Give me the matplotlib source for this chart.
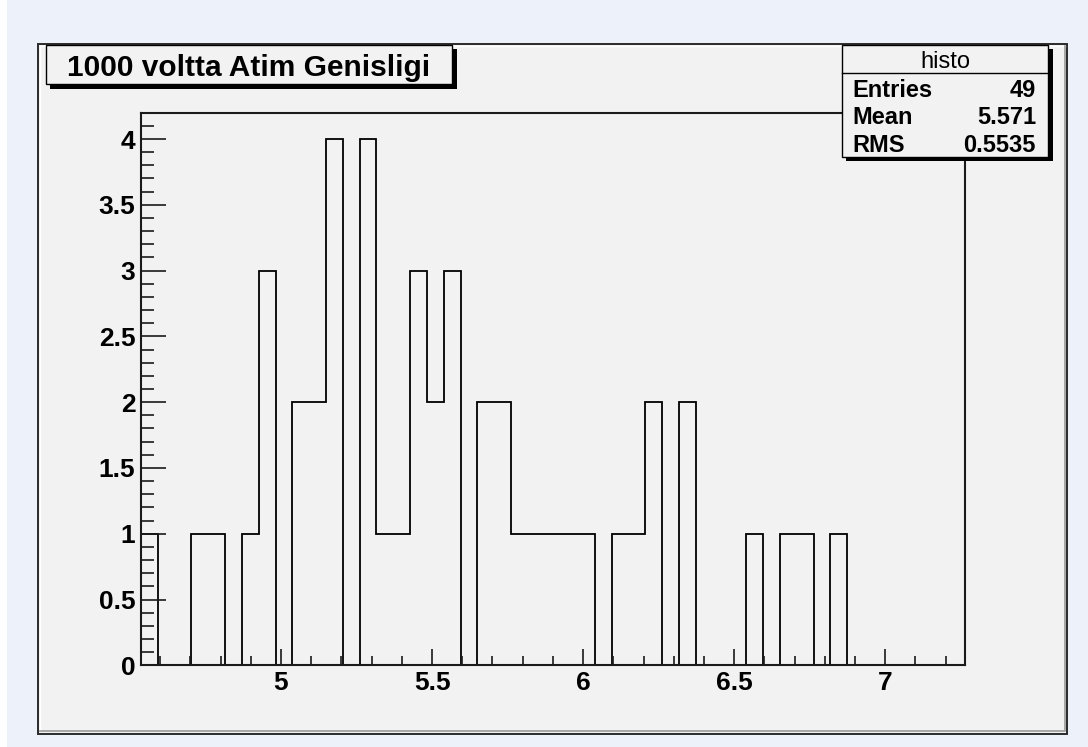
import numpy as np
import matplotlib.pyplot as plt
from matplotlib.patches import Rectangle
from matplotlib.ticker import MultipleLocator, FormatStrFormatter

# histogram contents (49 bins)
counts = [1, 0, 0, 1, 1, 0, 1, 3, 0, 2,
          2, 4, 0, 4, 1, 1, 3, 2, 3, 0,
          2, 2, 1, 1, 1, 1, 1, 0, 1, 1,
          2, 0, 2, 0, 0, 0, 1, 0, 1, 1,
          0, 1, 0, 0, 0, 0, 0, 0, 0]
x_min = 4.5367
x_max = 7.2640
y_max = 4.2

title = "1000 voltta Atim Genisligi"
stat_name = "histo"
stat_labels = ["Entries", "Mean", "RMS"]
stat_values = ["49", "5.571", "0.5535"]

W, H = 1088, 747
plt.rcParams['font.family'] = ['Liberation Sans', 'DejaVu Sans']

fig = plt.figure(figsize=(W / 100, H / 100), dpi=100)
fig.patch.set_facecolor('#edf1fa')

# background / canvas frame in pixel coordinates
bg = fig.add_axes([0, 0, 1, 1], zorder=-1)
bg.set_xlim(0, W)
bg.set_ylim(H, 0)
bg.axis('off')
bg.add_patch(Rectangle((0, 0), 7, H, facecolor='white', edgecolor='none'))
bg.add_patch(Rectangle((37.5, 43.5), 1029.5, 690, facecolor='#f2f2f2',
                       edgecolor='#2a2a2a', lw=1.4))
bg.plot([39.5, 39.5, 1065], [731, 45.5, 45.5], color='white', lw=1.0)
bg.plot([40, 1065, 1065], [731, 731, 45.5], color='#9a9a9a', lw=1.2)

# main histogram pad
ax = fig.add_axes([141 / W, 1 - 665.3 / H, (965 - 141) / W, (665.3 - 112.7) / H])
ax.set_facecolor('#f2f2f2')
edges = np.linspace(x_min, x_max, len(counts) + 1)
ax.stairs(counts, edges, baseline=0, color='black', lw=1.3)
ax.set_xlim(x_min, x_max)
ax.set_ylim(0, y_max)
for s in ax.spines.values():
    s.set_linewidth(1.5)
    s.set_color('#1a1a1a')

ax.xaxis.set_major_locator(MultipleLocator(0.5))
ax.xaxis.set_minor_locator(MultipleLocator(0.1))
ax.yaxis.set_major_locator(MultipleLocator(0.5))
ax.yaxis.set_minor_locator(MultipleLocator(0.1))
ax.xaxis.set_major_formatter(FormatStrFormatter('%g'))
ax.yaxis.set_major_formatter(FormatStrFormatter('%g'))
ax.tick_params(which='both', direction='in', top=False, right=False,
               width=1.2, color='#1a1a1a')
ax.tick_params(axis='y', which='major', length=18, pad=4)
ax.tick_params(axis='y', which='minor', length=9.4)
ax.tick_params(axis='x', which='major', length=11.5, pad=4)
ax.tick_params(axis='x', which='minor', length=6.5)
for lab in ax.get_xticklabels() + ax.get_yticklabels():
    lab.set_fontsize(19)
    lab.set_fontweight('bold')

# overlay for title box and stats box
ov = fig.add_axes([0, 0, 1, 1], zorder=5)
ov.set_xlim(0, W)
ov.set_ylim(H, 0)
ov.axis('off')
ov.patch.set_alpha(0)

# title box
ov.add_patch(Rectangle((50, 49), 406.5, 39.5, facecolor='black', edgecolor='none'))
ov.add_patch(Rectangle((46, 45), 405.7, 39, facecolor='#f2f2f2',
                       edgecolor='black', lw=1.0))
ov.text(248.9, 76, title, ha='center', va='baseline', fontsize=21.5,
        fontweight='bold')

# stats box
ov.add_patch(Rectangle((846, 49), 206.5, 112, facecolor='black', edgecolor='none'))
ov.add_patch(Rectangle((841.7, 45), 206.3, 111.7, facecolor='#f2f2f2',
                       edgecolor='black', lw=1.0))
ov.plot([841.7, 1048], [73.3, 73.3], color='black', lw=1.0)
ov.text(945, 68, stat_name, ha='center', va='baseline', fontsize=17)
for lab, val, yb in zip(stat_labels, stat_values, [96.7, 124.5, 151.5]):
    ov.text(852.7, yb, lab, ha='left', va='baseline', fontsize=17, fontweight='bold')
    ov.text(1036, yb, val, ha='right', va='baseline', fontsize=17, fontweight='bold')

fig.savefig('out.png', dpi=100, facecolor=fig.get_facecolor())
